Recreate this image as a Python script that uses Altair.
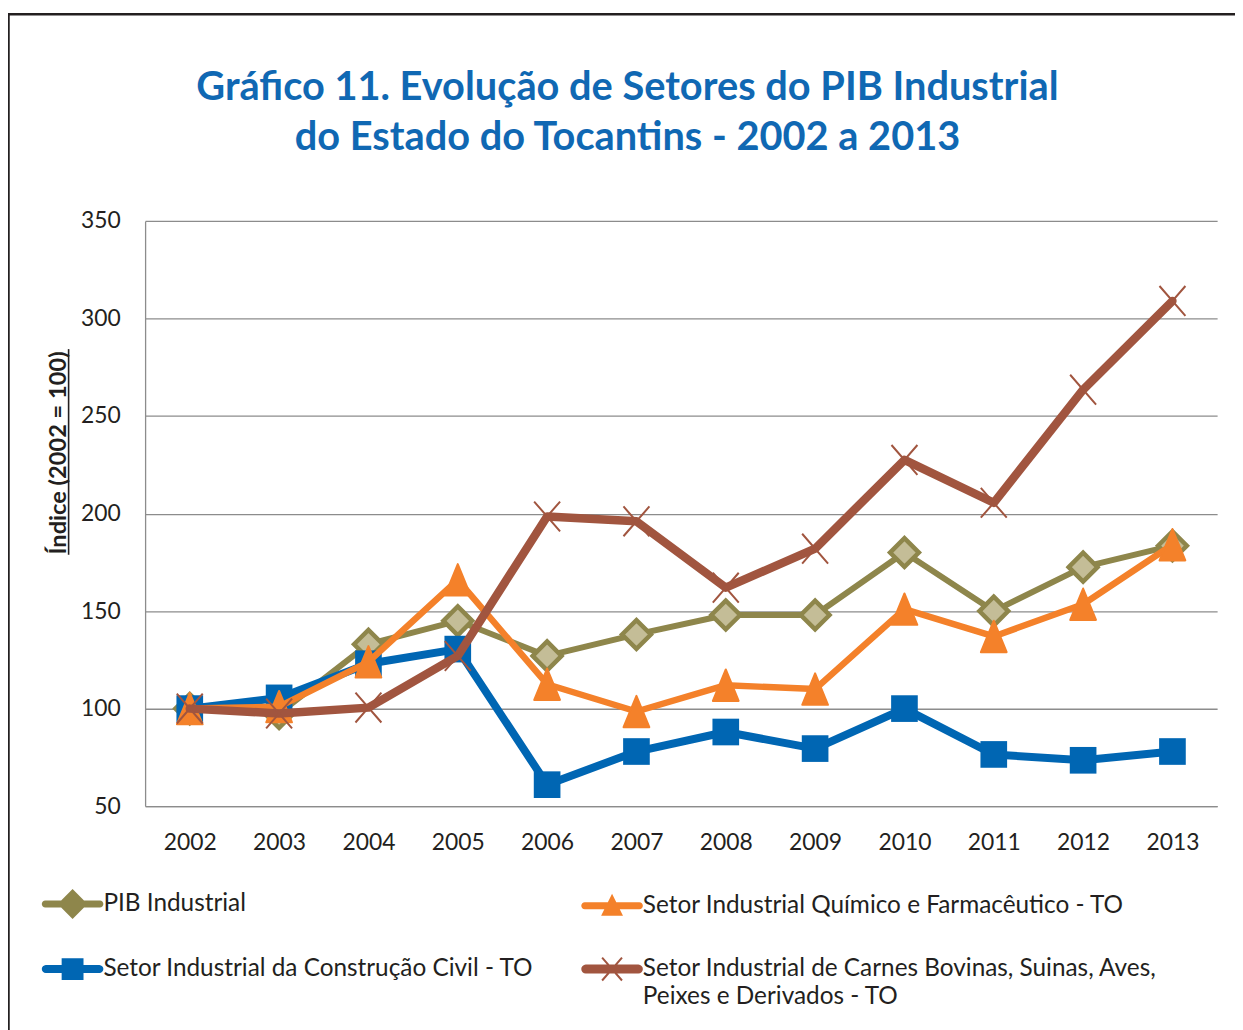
import math
import altair as alt
import pandas as pd

# ---------------- data ----------------
anos = ["2002", "2003", "2004", "2005", "2006", "2007",
        "2008", "2009", "2010", "2011", "2012", "2013"]
pib_industrial = [100, 97.5, 133, 145, 127, 138, 148, 148, 180, 150, 172.5, 183.5]
quimico_farmaceutico = [100, 101, 124, 166, 112.5, 98.5, 112, 110, 151, 137, 153.5, 184]
construcao_civil = [100, 105.5, 123, 130.5, 61, 78, 88, 79.5, 100, 76.5, 73.5, 78]
carnes_derivados = [100, 97.5, 100.5, 127, 198.5, 196, 162, 182, 227.5, 205.5, 263.5, 309]

serie_nomes = [
    "PIB Industrial",
    "Setor Industrial Químico e Farmacêutico - TO",
    "Setor Industrial da Construção Civil - TO",
    "Setor Industrial de Carnes Bovinas, Suinas, Aves, Peixes e Derivados - TO",
]
y_ticks = [50, 100, 150, 200, 250, 300, 350]
titulo = ["Gráfico 11. Evolução de Setores do PIB Industrial",
          "do Estado do Tocantins - 2002 a 2013"]
eixo_y_titulo = "Índice (2002 = 100)"

valores = [pib_industrial, quimico_farmaceutico, construcao_civil, carnes_derivados]
rows = []
for nome, vals in zip(serie_nomes, valores):
    for a, v in zip(anos, vals):
        rows.append({"ano": a, "serie": nome, "valor": v})
df = pd.DataFrame(rows)
um = pd.DataFrame({"k": [0]})

# ---------------- styles ----------------
OLIVE = "#8E864B"
TAN = "#C4BD97"
ORANGE = "#F4812A"
BLUE = "#0066B3"
BROWN = "#A1553F"
TITLE_BLUE = "#1068B3"
TXT = "#231F20"
GRID = "#8C8C8C"
FONT = "Lato"
cores = [OLIVE, ORANGE, BLUE, BROWN]

W, H = 1079, 589

# legend symbol paths (unit box -1..1 == S px)
S = 62.0


def un(px):
    return px / (S / 2)


def orient(pts):
    a = 0
    for i in range(len(pts)):
        x1, y1 = pts[i]
        x2, y2 = pts[(i + 1) % len(pts)]
        a += x1 * y2 - x2 * y1
    return pts if a > 0 else pts[::-1]


def fmt(pts):
    pts = orient(pts)
    return "M" + "L".join(f"{x:.4f},{y:.4f}" for x, y in pts) + "Z"


def stadium(half_px):
    r = un(half_px)
    pts = []
    n = 8
    for i in range(n + 1):
        a = -math.pi / 2 + math.pi * i / n
        pts.append((1 - r + r * math.cos(a), r * math.sin(a)))
    for i in range(n + 1):
        a = math.pi / 2 + math.pi * i / n
        pts.append((-1 + r + r * math.cos(a), r * math.sin(a)))
    return fmt(pts)


def seg(p, q, half_px):
    (x1, y1), (x2, y2) = p, q
    dx, dy = x2 - x1, y2 - y1
    L = math.hypot(dx, dy)
    nx, ny = -dy / L * un(half_px), dx / L * un(half_px)
    return fmt([(x1 + nx, y1 + ny), (x2 + nx, y2 + ny), (x2 - nx, y2 - ny), (x1 - nx, y1 - ny)])


d = un(15)
leg_pib = stadium(3.5) + fmt([(0, -d), (d, 0), (0, d), (-d, 0)])
leg_qui = stadium(3.5) + fmt([(0, un(-12)), (un(11), un(10)), (un(-11), un(10))])
s = un(11)
leg_con = stadium(4) + fmt([(-s, -s), (s, -s), (s, s), (-s, s)])
ax, ay = un(10), un(11.5)
leg_car = stadium(4.5) + seg((-ax, -ay), (ax, ay), 1.0) + seg((-ax, ay), (ax, -ay), 1.0)
formas_legenda = [leg_pib, leg_qui, leg_con, leg_car]

tri_path = "M0,-1L0.82,1L-0.82,1Z"
x_path = "M-0.87,-1L0.87,1M-0.87,1L0.87,-1"

# ---------------- axes / encodings ----------------
x_axis = alt.Axis(title=None, labelAngle=0, ticks=False, grid=False,
                  domainColor=GRID, domainWidth=1.3,
                  labelFont=FONT, labelFontSize=23, labelColor=TXT, labelPadding=26)
y_axis = alt.Axis(values=y_ticks, ticks=False, grid=True, gridColor=GRID, gridWidth=1.3,
                  domainColor=GRID, domainWidth=1.3,
                  labelFont=FONT, labelFontSize=23, labelColor=TXT, labelPadding=25,
                  title=eixo_y_titulo, titleFont=FONT, titleFontSize=23.8, titleFontWeight="bold",
                  titleColor=TXT, titleAngle=270, titleX=-80, titleY=233,
                  titleAlign="center", titleBaseline="alphabetic")

X = alt.X("ano:O", sort=anos, scale=alt.Scale(type="point", padding=0.5, domain=anos), axis=x_axis)
Y = alt.Y("valor:Q", scale=alt.Scale(domain=[50, 350], nice=False, zero=False), axis=y_axis)

base = alt.Chart(df)

line_width = {serie_nomes[0]: 6, serie_nomes[1]: 6.5, serie_nomes[2]: 8, serie_nomes[3]: 8.5}
line_color = dict(zip(serie_nomes, cores))

point_marks = {
    serie_nomes[0]: dict(shape="diamond", filled=True, fill=TAN, stroke=OLIVE, strokeWidth=4.5,
                         size=841, opacity=1),
    serie_nomes[1]: dict(shape=tri_path, filled=True, fill=ORANGE, stroke=ORANGE, strokeWidth=2,
                         strokeJoin="round", size=1000, opacity=1),
    serie_nomes[2]: dict(shape="square", filled=True, fill=BLUE, size=720, opacity=1, strokeWidth=0),
    serie_nomes[3]: dict(shape=x_path, filled=False, stroke=BROWN, strokeWidth=2, size=900, opacity=1),
}

draw_order = [serie_nomes[0], serie_nomes[2], serie_nomes[1], serie_nomes[3]]
data_layers = []
for nome in draw_order:
    sub = base.transform_filter(alt.datum.serie == nome)
    data_layers.append(
        sub.mark_line(color=line_color[nome], strokeWidth=line_width[nome],
                      strokeJoin="round", strokeCap="round").encode(x=X, y=Y)
    )
    data_layers.append(sub.mark_point(**point_marks[nome]).encode(x=X, y=Y))

# ---------------- legend ----------------
label_expr = ("datum.label == '" + serie_nomes[3] + "' ? "
              "['Setor Industrial de Carnes Bovinas, Suinas, Aves,', 'Peixes e Derivados - TO']"
              " : datum.label")
legenda = alt.Legend(title=None, orient="none", legendX=-104, legendY=656,
                     direction="horizontal",
                     columns=2, columnPadding=47, rowPadding=19, padding=0,
                     symbolSize=S * S, symbolStrokeWidth=0, symbolOpacity=1,
                     labelFont=FONT, labelFontSize=24.5, labelColor=TXT, labelOffset=0,
                     labelLimit=700, labelExpr=label_expr)
legend_layer = base.transform_filter("datum.valor < 0").mark_point(
    filled=True, opacity=1, strokeWidth=0).encode(
    color=alt.Color("serie:N", scale=alt.Scale(domain=serie_nomes, range=cores), legend=legenda),
    shape=alt.Shape("serie:N", scale=alt.Scale(domain=serie_nomes, range=formas_legenda), legend=legenda),
)

# ---------------- decorations ----------------
moldura = alt.Chart(um).mark_rect(fillOpacity=0, stroke=TXT, strokeWidth=2.5).encode(
    x=alt.value(-137.5), x2=alt.value(1300), y=alt.value(-208), y2=alt.value(1000))

titulo_layer = alt.Chart(um).mark_text(
    font=FONT, fontSize=40, fontWeight="bold", color=TITLE_BLUE, align="center",
    baseline="alphabetic", lineHeight=51).encode(
    x=alt.value(485.5), y=alt.value(-122), text=alt.value(titulo))

sublinhado = alt.Chart(um).mark_rule(color=TXT, strokeWidth=1.6).encode(
    x=alt.value(-77), y=alt.value(129), y2=alt.value(336))

chart = alt.layer(moldura, *data_layers, legend_layer, titulo_layer, sublinhado).properties(
    width=W, height=H,
    autosize=alt.AutoSizeParams(type="none"),
    padding={"left": 138, "top": 211, "right": 18, "bottom": 222},
).configure(
    style={"guide-label": {"lineHeight": 28}},
    view=alt.ViewConfig(strokeWidth=0),
)

chart.save("out.html", embed_options={"renderer": "svg", "actions": False})
